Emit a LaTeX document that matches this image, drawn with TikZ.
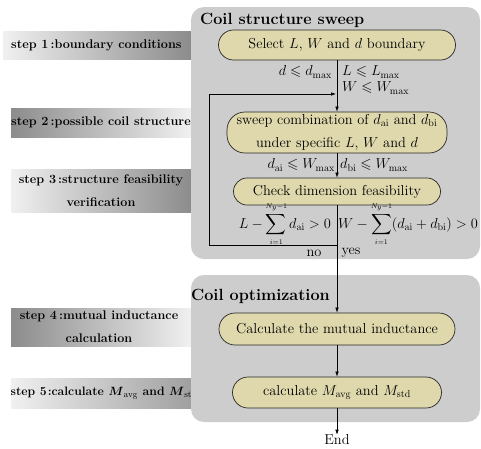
\documentclass[tikz,border=0pt]{standalone}
\usepackage{amsmath,amssymb,mathtools}
\usetikzlibrary{arrows.meta}
\definecolor{panel}{RGB}{205,205,205}
\definecolor{nodefill}{RGB}{222,216,172}
\definecolor{lightg}{RGB}{240,240,240}
\definecolor{darkg}{RGB}{140,140,140}
\begin{document}
\begin{tikzpicture}[x=1pt,y=-1pt,
 stepfont/.style={font=\fontsize{12.6}{23}\selectfont\bfseries, inner sep=0pt, align=center},
 box/.style={rectangle, draw=black!85, line width=0.7pt, fill=nodefill, font=\fontsize{14.4}{23}\selectfont, align=center, inner sep=0pt},
 panelbox/.style={fill=panel, rounded corners=13pt},
 titlefont/.style={font=\fontsize{16.2}{19}\selectfont\bfseries, inner sep=0pt},
 arr/.style={-{Latex[length=5pt,width=3.5pt]}, line width=0.6pt},
 lbl/.style={font=\fontsize{14.4}{17}\selectfont, inner sep=0pt},
 flbl/.style={font=\fontsize{14.4}{17}\selectfont, inner sep=0pt}
]
\useasboundingbox (0,0) rectangle (481,448);

% step bars
\shade[left color=lightg, right color=darkg] (3,31) rectangle (191,59);
\shade[left color=darkg, right color=lightg] (11,108) rectangle (191,137);
\shade[left color=lightg, right color=darkg] (11,169) rectangle (191,212);
\shade[left color=darkg, right color=lightg] (11,308) rectangle (191,346);
\shade[left color=lightg, right color=darkg!80!lightg] (11,378) rectangle (191,408);

\node[stepfont, anchor=west] (s1) at (11,45) {step 1\,:boundary conditions};
\node[stepfont, anchor=west] (s2) at (11,122.5) {step 2\,:possible coil structure};
\node[stepfont] (s3) at (101,190.5) {step 3\,:structure feasibility\\verification};
\node[stepfont] (s4) at (99,327) {step 4\,:mutual inductance\\calculation};
\node[stepfont, font=\fontsize{12.2}{23}\selectfont\bfseries, anchor=west] (s5) at (10.5,393) {step 5\kern1pt:calculate $\boldsymbol{M}_{\mathrm{avg}}$ and $\boldsymbol{M}_{\mathrm{std}}$};

% panels
\fill[panelbox] (191,7) rectangle (480,259);
\fill[panelbox] (191,275) rectangle (480,422);
\node[titlefont, anchor=west] (t1) at (200,20) {Coil structure sweep};
\node[titlefont, anchor=west] (t2) at (191,296) {Coil optimization};

% process nodes
\node[box, rounded corners=15pt, minimum width=237pt, minimum height=30pt] (n1) at (337,45) {Select $L$, $W$ and $d$ boundary};
\node[box, rounded corners=18pt, minimum width=220pt, minimum height=41pt] (n2) at (337,132.5) {sweep combination of $d_{\mathrm{ai}}$ and $d_{\mathrm{bi}}$\\under specific $L$, $W$ and $d$};
\node[box, rounded corners=13.5pt, minimum width=207pt, minimum height=27pt] (n3) at (337,191.5) {Check dimension feasibility};
\node[box, rounded corners=16pt, minimum width=236pt, minimum height=32pt] (n4) at (337,329) {Calculate the mutual inductance};
\node[box, rounded corners=15.5pt, minimum width=209pt, minimum height=31pt] (n5) at (337,392.5) {calculate $M_{\mathrm{avg}}$ and $M_{\mathrm{std}}$};
\node[lbl] (end) at (337,440) {End};

% connectors
\draw[arr] (n1) -- (n2);
\draw[arr] (n2) -- (n3);
\draw[arr] (n3) -- (n4);
\draw[arr] (n4) -- (n5);
\draw[arr] (n5) -- (end);

% loop back
\coordinate (lj) at (337,245);
\coordinate (lb) at (209,245);
\coordinate (lt) at (209,94);
\coordinate (lm) at (336,94);
\draw[arr] (lj) -- (lb) -- (lt) -- (lm);

% labels
\node[lbl, anchor=east] (c1) at (332,72) {$d\leqslant d_{\max}$};
\node[lbl, anchor=west] (c2) at (342,72) {$L\leqslant L_{\max}$};
\node[lbl, anchor=west] (c3) at (342,88) {$W\leqslant W_{\max}$};
\node[lbl, anchor=east] (c4) at (335,165) {$d_{\mathrm{ai}}\leqslant W_{\max}$};
\node[lbl, anchor=west] (c5) at (340,165) {$d_{\mathrm{bi}}\leqslant W_{\max}$};
\node[flbl, anchor=base east] (f1) at (331,228) {$\displaystyle L-\sum_{\mathclap{\scriptscriptstyle i=1}}^{\mathclap{\scriptscriptstyle N_y-1}} d_{\mathrm{ai}}>0$};
\node[flbl, anchor=base west] (f2) at (338,228) {$\displaystyle W-\sum_{\mathclap{\scriptscriptstyle i=1}}^{\mathclap{\scriptscriptstyle N_y-1}}(d_{\mathrm{ai}}+d_{\mathrm{bi}})>0$};
\node[lbl] (no) at (314,253) {no};
\node[lbl] (yes) at (351,253) {yes};
\end{tikzpicture}
\end{document}
